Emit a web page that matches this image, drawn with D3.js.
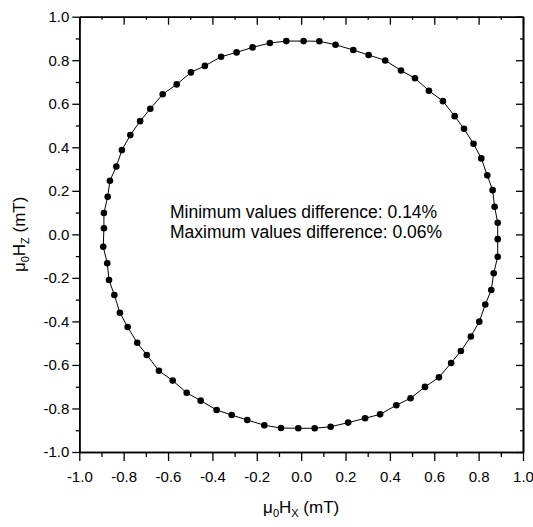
<!DOCTYPE html>
<html>
<head>
<meta charset="utf-8">
<script src="https://cdn.jsdelivr.net/npm/d3@7"></script>
<style>
  body { margin: 0; background: #fff; }
  text { font-family: "Liberation Sans", Arial, sans-serif; fill: #000; }
</style>
</head>
<body>
<script>
// measured field components (mT), going round the loop
const hx = [-0.291, -0.219, -0.141, -0.067, 0.011, 0.082, 0.155, 0.235, 0.304, 0.379, 0.450, 0.513,
  0.576, 0.639, 0.692, 0.734, 0.777, 0.812, 0.839, 0.863, 0.872, 0.886, 0.886, 0.886,
  0.868, 0.857, 0.830, 0.803, 0.765, 0.720, 0.676, 0.621, 0.558, 0.493, 0.429, 0.356,
  0.288, 0.212, 0.133, 0.061, -0.013, -0.091, -0.166, -0.243, -0.313, -0.381, -0.453, -0.516,
  -0.579, -0.641, -0.696, -0.739, -0.782, -0.817, -0.842, -0.866, -0.874, -0.892, -0.889, -0.889,
  -0.872, -0.862, -0.833, -0.808, -0.770, -0.726, -0.680, -0.624, -0.561, -0.497, -0.434, -0.361];
const hz = [0.836, 0.859, 0.879, 0.888, 0.888, 0.887, 0.871, 0.847, 0.824, 0.799, 0.753, 0.717,
  0.660, 0.612, 0.543, 0.485, 0.416, 0.349, 0.271, 0.203, 0.127, 0.053, -0.022, -0.103,
  -0.179, -0.256, -0.322, -0.401, -0.469, -0.536, -0.591, -0.657, -0.701, -0.753, -0.785, -0.827,
  -0.845, -0.865, -0.884, -0.891, -0.891, -0.890, -0.877, -0.853, -0.830, -0.807, -0.764, -0.728,
  -0.672, -0.627, -0.554, -0.498, -0.426, -0.360, -0.279, -0.210, -0.133, -0.057, 0.028, 0.098,
  0.173, 0.246, 0.312, 0.387, 0.456, 0.520, 0.577, 0.644, 0.689, 0.744, 0.774, 0.816];

const majorTicks = [-1.0, -0.8, -0.6, -0.4, -0.2, 0.0, 0.2, 0.4, 0.6, 0.8, 1.0];
const minorTicks = [-0.9, -0.7, -0.5, -0.3, -0.1, 0.1, 0.3, 0.5, 0.7, 0.9];
const notes = ["Minimum values difference: 0.14%", "Maximum values difference: 0.06%"];

const width = 533, height = 527;

const svg = d3.select('body')
  .append('svg')
  .attr('width', width)
  .attr('height', height)

const x = d3.scaleLinear().domain([-1, 1]).range([79.3, 523])
const y = d3.scaleLinear().domain([-1, 1]).range([452, 16.7])

const fmt = d => d.toFixed(1)

// bottom axis, ticks outward
svg.append('g')
  .attr('transform', `translate(0,${y(-1)})`)
  .call(d3.axisBottom(x).tickValues(majorTicks).tickSize(9).tickSizeOuter(0).tickPadding(10).tickFormat(fmt))
svg.append('g')
  .attr('transform', `translate(0,${y(-1)})`)
  .call(d3.axisBottom(x).tickValues(minorTicks).tickSize(5).tickSizeOuter(0).tickFormat(''))

// left axis
svg.append('g')
  .attr('transform', `translate(${x(-1)},0)`)
  .call(d3.axisLeft(y).tickValues(majorTicks).tickSize(7).tickSizeOuter(0).tickPadding(3).tickFormat(fmt))
svg.append('g')
  .attr('transform', `translate(${x(-1)},0)`)
  .call(d3.axisLeft(y).tickValues(minorTicks).tickSize(3.5).tickSizeOuter(0).tickFormat(''))

// top + right, ticks inward
svg.append('g')
  .attr('transform', `translate(0,${y(1)})`)
  .call(d3.axisTop(x).tickValues(majorTicks).tickSize(-8).tickSizeOuter(0).tickFormat(''))
svg.append('g')
  .attr('transform', `translate(0,${y(1)})`)
  .call(d3.axisTop(x).tickValues(minorTicks).tickSize(-3).tickSizeOuter(0).tickFormat(''))
svg.append('g')
  .attr('transform', `translate(${x(1)},0)`)
  .call(d3.axisRight(y).tickValues(majorTicks).tickSize(-7).tickSizeOuter(0).tickFormat(''))
svg.append('g')
  .attr('transform', `translate(${x(1)},0)`)
  .call(d3.axisRight(y).tickValues(minorTicks).tickSize(-3).tickSizeOuter(0).tickFormat(''))

svg.selectAll('.domain').attr('stroke', '#000').attr('stroke-width', 1.6)
svg.selectAll('.tick line').attr('stroke', '#000').attr('stroke-width', 1.3)
svg.selectAll('.tick text').attr('font-size', 15).attr('font-family', '"Liberation Sans", Arial, sans-serif')

// data
const pts = hx.map((d, i) => [d, hz[i]])

svg.append('path')
  .datum(pts)
  .attr('fill', 'none')
  .attr('stroke', '#000')
  .attr('stroke-width', 1)
  .attr('d', d3.line().x(d => x(d[0])).y(d => y(d[1])).curve(d3.curveLinearClosed))

svg.selectAll('circle.pt')
  .data(pts)
  .join('circle')
  .attr('class', 'pt')
  .attr('cx', d => x(d[0]))
  .attr('cy', d => y(d[1]))
  .attr('r', 3.3)
  .attr('fill', '#000')

// annotation
svg.selectAll('text.note')
  .data(notes)
  .join('text')
  .attr('class', 'note')
  .attr('x', 170)
  .attr('y', (d, i) => 218 + i * 19.5)
  .attr('font-size', 17.5)
  .text(d => d)

// axis titles
const xt = svg.append('text')
  .attr('x', x(0))
  .attr('y', 513)
  .attr('text-anchor', 'middle')
  .attr('font-size', 17)
xt.append('tspan').text('μ')
xt.append('tspan').attr('font-size', 11).attr('dy', 4).text('0')
xt.append('tspan').attr('dy', -4).text('H')
xt.append('tspan').attr('font-size', 11).attr('dy', 4).text('X')
xt.append('tspan').attr('dy', -4).text(' (mT)')

const yt = svg.append('text')
  .attr('transform', `translate(25,${y(0)}) rotate(-90)`)
  .attr('text-anchor', 'middle')
  .attr('font-size', 17)
yt.append('tspan').text('μ')
yt.append('tspan').attr('font-size', 11).attr('dy', 4).text('0')
yt.append('tspan').attr('dy', -4).text('H')
yt.append('tspan').attr('font-size', 11).attr('dy', 4).text('Z')
yt.append('tspan').attr('dy', -4).text(' (mT)')
</script>
</body>
</html>
